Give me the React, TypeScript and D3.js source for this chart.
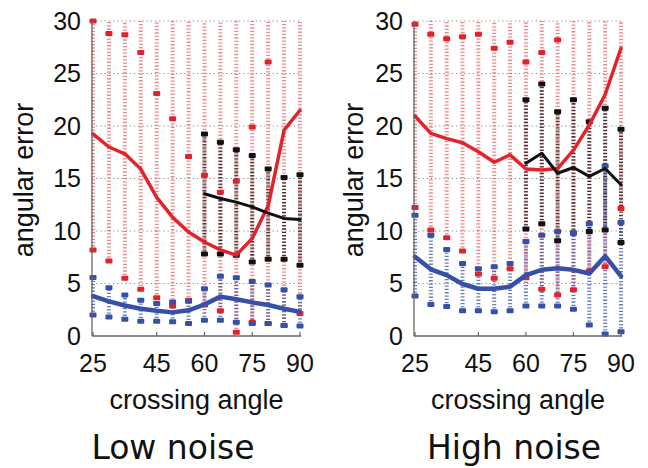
import React from "react";
import * as d3 from "d3";

// Crossing angles (degrees) sampled by every series
const angles = [25, 30, 35, 40, 45, 50, 55, 60, 65, 70, 75, 80, 85, 90];
const anglesHigh = [60, 65, 70, 75, 80, 85, 90];

const xTicks = [25, 45, 60, 75, 90];
const yTicks = [0, 5, 10, 15, 20, 25, 30];

// Low noise: red method
const redMeanLow = [19.25, 18.0, 17.35, 15.9, 13.2, 11.3, 9.9, 8.95, 8.2, 7.7, 9.3, 12.4, 19.6, 21.5];
const redHiLow = [30, 28.8, 28.7, 27.0, 23.1, 20.7, 17.1, 15.3, 13.7, 14.75, 19.9, 26.1, 31.5, 31.5];
const redLoLow = [8.2, 7.15, 5.5, 4.45, 3.65, 2.85, 3.4, 2.95, 2.4, 0.35, 1.3, 1.2, 1.0, 2.15];
// Low noise: blue method
const blueMeanLow = [3.8, 3.3, 2.9, 2.6, 2.4, 2.25, 2.45, 3.0, 3.75, 3.5, 3.2, 2.95, 2.6, 2.3];
const blueHiLow = [5.57, 4.6, 3.9, 3.4, 3.1, 3.25, 3.3, 4.5, 5.7, 5.55, 5.2, 4.85, 4.4, 3.75];
const blueLoLow = [2.0, 1.8, 1.6, 1.4, 1.4, 1.35, 1.2, 1.5, 1.5, 1.3, 1.2, 1.2, 1.0, 0.95];
// Low noise: black method (60-90 only)
const blackMeanLow = [13.55, 13.1, 12.75, 12.3, 11.7, 11.2, 11.1];
const blackHiLow = [19.25, 18.45, 17.75, 17.2, 15.9, 15.1, 15.35];
const blackLoLow = [7.8, 7.8, 7.7, 7.05, 7.3, 7.3, 6.75];

// High noise: red method
const redMeanHigh = [20.95, 19.3, 18.8, 18.4, 17.55, 16.55, 17.25, 15.9, 15.8, 15.95, 17.7, 20.1, 23.0, 27.4];
const redHiHigh = [29.7, 28.75, 28.3, 28.5, 28.75, 27.4, 27.97, 26.1, 27.0, 28.2, 31.5, 31.5, 31.5, 31.5];
const redLoHigh = [12.25, 10.1, 9.35, 8.1, 5.9, 5.5, 6.4, 5.55, 4.45, 3.9, 4.4, 6.2, 6.6, 12.15];
// High noise: blue method
const blueMeanHigh = [7.55, 6.35, 5.8, 4.95, 4.5, 4.5, 4.7, 5.8, 6.3, 6.45, 6.3, 5.95, 7.6, 5.7];
const blueHiHigh = [11.5, 9.6, 8.25, 6.9, 6.4, 6.6, 6.9, 9.0, 9.6, 9.95, 9.8, 10.7, 16.2, 10.8];
const blueLoHigh = [3.8, 3.0, 2.8, 2.4, 2.4, 2.3, 2.4, 2.85, 2.85, 2.85, 2.55, 1.05, 0.2, 0.4];
// High noise: black method (60-90 only)
const blackMeanHigh = [16.45, 17.4, 15.5, 16.05, 15.2, 15.95, 14.4];
const blackHiHigh = [22.5, 24.0, 21.35, 22.5, 20.4, 21.7, 19.7];
const blackLoHigh = [10.2, 10.7, 9.07, 9.8, 9.95, 10.1, 8.9];

const RED = "#e2232b";
const BLUE = "#3550a6";
const BLACK = "#111111";
const SANS = "'Liberation Sans', Arial, Helvetica, sans-serif";

type Series = {
  xs: number[];
  mean: number[];
  hi: number[];
  lo: number[];
  color: string;
  dotColor: string;
  lineWidth: number;
  dotFromTop?: boolean;
};

type PanelProps = {
  id: string;
  x0: number;
  x1: number;
  title: string;
  titleX: number;
  yLabelX: number;
  series: Series[];
};

const yTop = 21;
const yBottom = 336;

function Panel({ id, x0, x1, title, titleX, yLabelX, series }: PanelProps) {
  const x = d3.scaleLinear().domain([25, 90]).range([x0, x1]);
  const y = d3.scaleLinear().domain([0, 30]).range([yBottom, yTop]);
  const clipId = `clip-${id}`;
  const markClipId = `mclip-${id}`;
  const axisX = x0 - 1;

  return (
    <g>
      <defs>
        <clipPath id={clipId}>
          <rect x={x0 - 6} y={y(30)} width={x1 - x0 + 12} height={y(0) - y(30)} />
        </clipPath>
        <clipPath id={markClipId}>
          <rect x={x0 - 6} y={y(30) - 4} width={x1 - x0 + 12} height={y(0) - y(30) + 8} />
        </clipPath>
      </defs>

      {/* horizontal dotted grid */}
      {yTicks.filter((t) => t > 0).map((t) => (
        <line key={`g${t}`} x1={axisX} x2={x1 + 2} y1={y(t)} y2={y(t)}
          stroke="#8a8a8a" strokeWidth={1.2} strokeDasharray="1.2 3" />
      ))}

      {/* spread of errors per angle: dotted columns */}
      <g clipPath={`url(#${clipId})`}>
        {series.map((s, si) =>
          s.xs.map((a, i) => (
            <line key={`d${si}-${i}`} x1={x(a)} x2={x(a)}
              y1={y(s.lo[i])} y2={s.dotFromTop ? y(30) : y(s.hi[i])}
              stroke={s.dotColor} strokeWidth={4} strokeDasharray="1.3 2" />
          ))
        )}
      </g>

      {/* percentile markers */}
      <g clipPath={`url(#${markClipId})`}>
        {series.map((s, si) =>
          s.xs.map((a, i) => (
            <g key={`m${si}-${i}`}>
              <rect x={x(a) - 3.5} y={y(s.hi[i]) - 2.5} width={7} height={5} rx={1} fill={s.color} />
              <rect x={x(a) - 3.5} y={y(s.lo[i]) - 2.5} width={7} height={5} rx={1} fill={s.color} />
            </g>
          ))
        )}
      </g>

      {/* mean error curves */}
      <g clipPath={`url(#${markClipId})`}>
        {series.map((s, si) => {
          const line = d3.line<number>()
            .x((_, i) => x(s.xs[i]))
            .y((v) => y(v))
            .curve(d3.curveLinear);
          return (
            <path key={`l${si}`} d={line(s.mean) ?? ""} fill="none" stroke={s.color}
              strokeWidth={s.lineWidth} strokeLinejoin="round" strokeLinecap="round" />
          );
        })}
      </g>

      {/* axes */}
      <line x1={axisX} x2={axisX} y1={y(30)} y2={y(0)} stroke="#666" strokeWidth={1.3} />
      <line x1={axisX} x2={x1 + 1} y1={y(0)} y2={y(0)} stroke="#666" strokeWidth={1.3} />
      {xTicks.map((t) => (
        <line key={`xt${t}`} x1={x(t)} x2={x(t)} y1={y(0)} y2={y(0) - 4} stroke="#666" strokeWidth={1.2} />
      ))}
      {yTicks.map((t) => (
        <text key={`yl${t}`} x={axisX - 11} y={y(t) + 8.8} textAnchor="end"
          fontFamily={SANS} fontSize={25} fill="#111">{t}</text>
      ))}
      {xTicks.map((t) => (
        <text key={`xl${t}`} x={x(t)} y={yBottom + 36} textAnchor="middle"
          fontFamily={SANS} fontSize={25} fill="#111">{t}</text>
      ))}
      <text x={(x0 + x1) / 2} y={yBottom + 73} textAnchor="middle"
        fontFamily={SANS} fontSize={27} fill="#111">crossing angle</text>
      <text transform={`translate(${yLabelX},180) rotate(-90)`} textAnchor="middle"
        fontFamily={SANS} fontSize={27} fill="#111">angular error</text>
      <text x={titleX} y={459} textAnchor="middle"
        fontFamily="'DejaVu Sans', sans-serif" fontSize={33} fill="#111">{title}</text>
    </g>
  );
}

export default function App() {
  const lowSeries: Series[] = [
    { xs: angles, mean: redMeanLow, hi: redHiLow, lo: redLoLow, color: RED, dotColor: "rgba(226,40,50,0.55)", lineWidth: 3.5, dotFromTop: true },
    { xs: anglesHigh, mean: blackMeanLow, hi: blackHiLow, lo: blackLoLow, color: BLACK, dotColor: "rgba(20,20,20,0.8)", lineWidth: 3 },
    { xs: angles, mean: blueMeanLow, hi: blueHiLow, lo: blueLoLow, color: BLUE, dotColor: "rgba(53,80,166,0.75)", lineWidth: 4.5 },
  ];
  const highSeries: Series[] = [
    { xs: angles, mean: redMeanHigh, hi: redHiHigh, lo: redLoHigh, color: RED, dotColor: "rgba(226,40,50,0.55)", lineWidth: 3.5, dotFromTop: true },
    { xs: anglesHigh, mean: blackMeanHigh, hi: blackHiHigh, lo: blackLoHigh, color: BLACK, dotColor: "rgba(20,20,20,0.8)", lineWidth: 3 },
    { xs: angles, mean: blueMeanHigh, hi: blueHiHigh, lo: blueLoHigh, color: BLUE, dotColor: "rgba(53,80,166,0.75)", lineWidth: 4.5 },
  ];

  return (
    <svg width={648} height={468} viewBox="0 0 648 468"
      style={{ position: "absolute", left: 0, top: 0, background: "#fff" }}>
      <rect width={648} height={468} fill="#fff" />
      <Panel id="low" x0={93} x1={300} title="Low noise" titleX={173} yLabelX={33} series={lowSeries} />
      <Panel id="high" x0={415} x1={621} title="High noise" titleX={514} yLabelX={363} series={highSeries} />
    </svg>
  );
}
